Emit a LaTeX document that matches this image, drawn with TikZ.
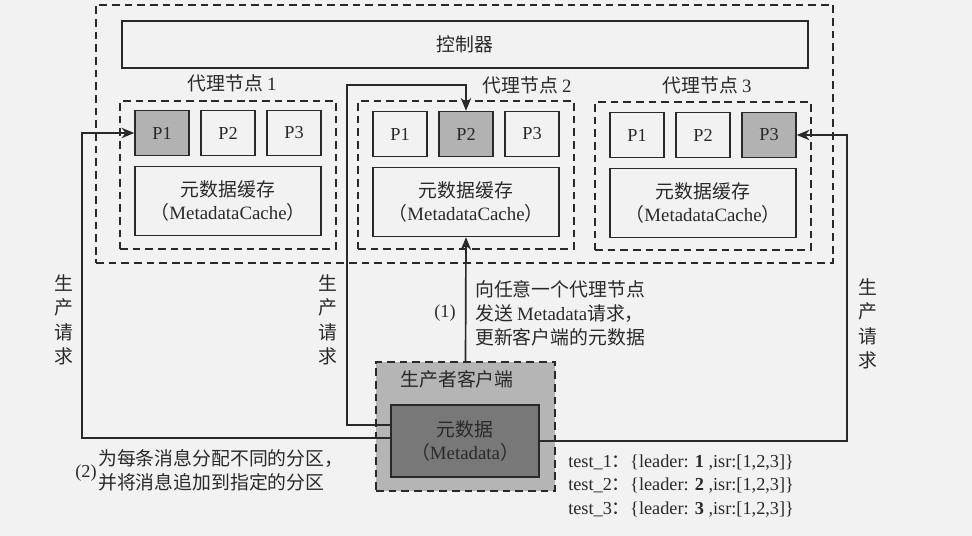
\documentclass[tikz,border=0pt]{standalone}
\usepackage{fontspec}
\setmainfont{Liberation Serif}
\newfontfamily\cjk{Noto Sans CJK SC}
\usepackage{xcolor}
\usepackage{tikz}
\usetikzlibrary{arrows.meta, positioning, calc}

\definecolor{paper}{gray}{0.95}
\definecolor{ink}{gray}{0.16}
\definecolor{partfill}{gray}{0.70}
\definecolor{clientfill}{gray}{0.71}
\definecolor{metafill}{gray}{0.47}

\newcommand{\zhsize}{\fontsize{13.4}{17}\selectfont}
\newcommand{\ensize}{\fontsize{13}{17}\selectfont}

\begin{document}
\begin{tikzpicture}[
  x=0.025cm, y=-0.025cm,
  every node/.append style={text=ink},
  arrow/.style={-{Stealth[length=3.2mm, width=2.6mm]}, line width=1.2pt, draw=ink},
  dashbox/.style={rectangle, draw=ink, dash pattern=on 5.5pt off 3.5pt, line width=1pt, inner sep=0pt},
  solidbox/.style={rectangle, draw=ink, line width=1pt, inner sep=0pt, align=center},
  part/.style={solidbox, minimum width=1.35cm, minimum height=1.125cm, font=\rmfamily\ensize},
  hot/.style={fill=partfill},
  cache/.style={solidbox, minimum width=4.65cm, minimum height=1.725cm, font=\cjk\zhsize},
  broker/.style={dashbox, minimum width=5.4cm, minimum height=3.7cm},
  zhtext/.style={font=\cjk\zhsize, align=center, inner sep=0pt},
  vtext/.style={zhtext, font=\cjk\fontsize{13.4}{17.4}\selectfont}
]
\fill[paper] (0,0) rectangle (972,536);
\useasboundingbox (0,0) rectangle (972,536);

\node[dashbox, minimum width=18.425cm, minimum height=6.45cm] (cluster) at (464.5,134) {};
\node[solidbox, minimum width=17.15cm, minimum height=1.175cm, font=\cjk\zhsize] (controller) at (465,44.5) {控制器};

\node[zhtext] (name1) at (232,83) {代理节点 {\rmfamily 1}};
\node[broker] (broker1) at (228,175) {};
\node[part, hot] (b1p1) at (162,133) {P1};
\node[part] (b1p2) at (228,133) {P2};
\node[part] (b1p3) at (294,133) {P3};
\node[cache] (b1cache) at (228,201) {元数据缓存\\（{\rmfamily MetadataCache}）};

\node[zhtext] (name2) at (527,85) {代理节点 {\rmfamily 2}};
\node[broker] (broker2) at (466,175) {};
\node[part] (b2p1) at (400,134) {P1};
\node[part, hot] (b2p2) at (466,134) {P2};
\node[part] (b2p3) at (532,134) {P3};
\node[cache] (b2cache) at (466,202) {元数据缓存\\（{\rmfamily MetadataCache}）};

\node[zhtext] (name3) at (707,85) {代理节点 {\rmfamily 3}};
\node[broker] (broker3) at (703,176) {};
\node[part] (b3p1) at (637,135) {P1};
\node[part] (b3p2) at (703,135) {P2};
\node[part, hot] (b3p3) at (769,135) {P3};
\node[cache] (b3cache) at (703,203) {元数据缓存\\（{\rmfamily MetadataCache}）};

\node[dashbox, fill=clientfill, minimum width=4.475cm, minimum height=3.225cm] (client) at (465.5,426.5) {};
\node[zhtext] (clientName) at (457,379) {生产者客户端};
\node[solidbox, fill=metafill, minimum width=3.7cm, minimum height=1.8cm, font=\cjk\zhsize] (meta) at (465,441) {元数据\\（{\rmfamily Metadata}）};

\coordinate (leftTurn) at (82,438);
\coordinate (midTurn) at (347,85);
\coordinate (rightTurn) at (847,441);
\draw[arrow] ($(meta.west)+(0,-3)$) -- (leftTurn) |- (b1p1.west);
\draw[arrow] ($(meta.west)+(0,-16)$) -| (midTurn) -| (b2p2.north);
\draw[arrow] (meta.east) -- (rightTurn) |- (b3p3.east);
\draw[arrow] (client.north) -- (b2cache.south);

\node[vtext] (reqLeft) at (64,320) {生\\产\\请\\求};
\node[vtext] (reqMid) at (328,320) {生\\产\\请\\求};
\node[vtext] (reqRight) at (868,324) {生\\产\\请\\求};

\node[font=\rmfamily\ensize, inner sep=0pt] (step1) at (445,313) {(1)};
\node[zhtext, anchor=west, align=left] (step1Text) at (475,313) {向任意一个代理节点\\发送 {\rmfamily Metadata}请求，\\更新客户端的元数据};
\node[font=\rmfamily\ensize, inner sep=0pt] (step2) at (86,473) {(2)};
\node[zhtext, anchor=west, align=left] (step2Text) at (98,470) {为每条消息分配不同的分区，\\并将消息追加到指定的分区};

\node[anchor=west, align=left, inner sep=0pt, font=\rmfamily\ensize] (topics) at (568,486) {test\_1{\cjk ：}\{leader: \textbf{1} ,isr:[1,2,3]\}\\test\_2{\cjk ：}\{leader: \textbf{2} ,isr:[1,2,3]\}\\test\_3{\cjk ：}\{leader: \textbf{3} ,isr:[1,2,3]\}};
\end{tikzpicture}
\end{document}
